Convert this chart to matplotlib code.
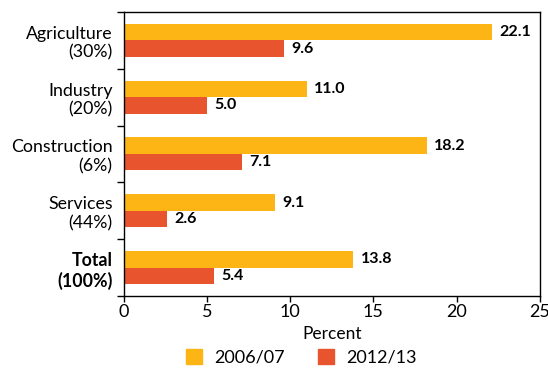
import numpy as np
import matplotlib.pyplot as plt
from matplotlib.patches import Patch

plt.rcParams['font.family'] = ['Lato', 'DejaVu Sans']

categories = ['Agriculture\n(30%)', 'Industry\n(20%)', 'Construction\n(6%)', 'Services\n(44%)', 'Total\n(100%)']
vals_2006 = [22.1, 11.0, 18.2, 9.1, 13.8]
vals_2012 = [9.6, 5.0, 7.1, 2.6, 5.4]
series = ['2006/07', '2012/13']
colors = ['#FDB515', '#E8542D']

fig = plt.figure(figsize=(5.48, 3.71), dpi=100)
ax = fig.add_axes([0.226, 0.202, 0.759, 0.766])

y = np.arange(len(categories))
h = 0.29
ax.barh(y - h / 2, vals_2006, height=h, color=colors[0])
ax.barh(y + h / 2, vals_2012, height=h, color=colors[1])

for yi, v in zip(y, vals_2006):
    ax.text(v + 0.45, yi - h / 2, f'{v:.1f}', va='center', ha='left', fontsize=11.5, fontweight='bold')
for yi, v in zip(y, vals_2012):
    ax.text(v + 0.45, yi + h / 2, f'{v:.1f}', va='center', ha='left', fontsize=11.5, fontweight='bold')

ax.set_xlim(0, 25)
ax.set_ylim(len(categories) - 0.5, -0.5)
ax.set_xticks([0, 5, 10, 15, 20, 25])
ax.tick_params(axis='x', labelsize=13, length=4, width=1, pad=2)
ax.set_yticks(y)
ax.set_yticklabels(categories, fontsize=12.8, linespacing=1.2)
ax.tick_params(axis='y', which='major', length=0, pad=8)
ax.set_yticks(np.arange(-0.5, len(categories)), minor=True)
ax.tick_params(axis='y', which='minor', length=5, width=1)
ax.get_yticklabels()[-1].set_fontweight('bold')
for s in ax.spines.values():
    s.set_linewidth(1)
ax.set_xlabel('Percent', fontsize=12.5, labelpad=4)

handles = [Patch(color=c, label=s) for c, s in zip(colors, series)]
fig.legend(handles=handles, loc='lower center', bbox_to_anchor=(0.55, -0.03), ncol=2,
           frameon=False, fontsize=13, handlelength=0.9, handleheight=0.9,
           handletextpad=0.7, columnspacing=1.8)

fig.savefig('out.png', dpi=100)
